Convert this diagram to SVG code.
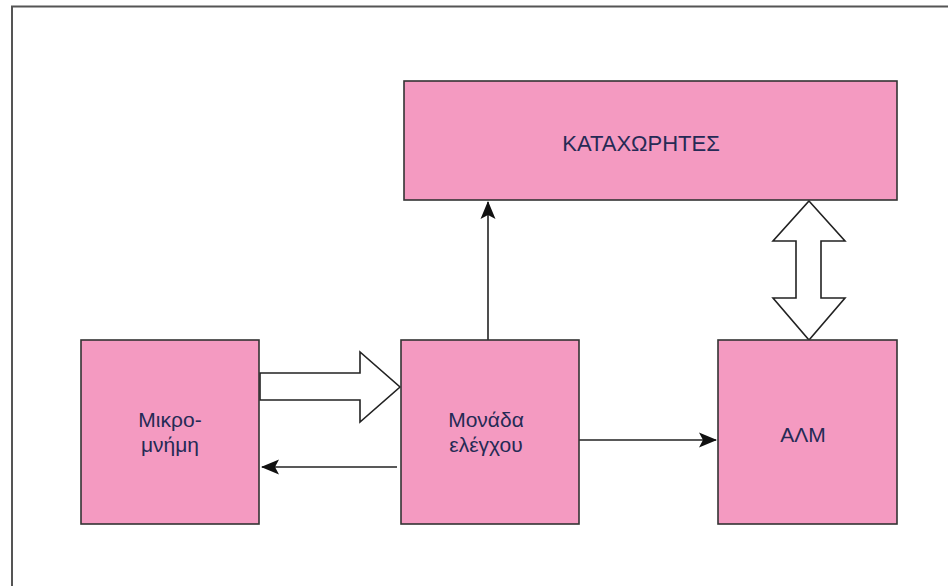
<svg xmlns="http://www.w3.org/2000/svg" width="948" height="586" viewBox="0 0 948 586">
<defs>
<style>
.box{fill:#F49AC1;stroke:#333;stroke-width:1.6}
.lbl{font-family:"Liberation Sans",Arial,sans-serif;font-size:21px;fill:#252a55;text-anchor:middle}
.line{stroke:#222;stroke-width:1.6;fill:none}
.hollow{fill:#fff;stroke:#222;stroke-width:1.6;stroke-linejoin:miter}
</style>
<marker id="ah" markerWidth="18" markerHeight="18" refX="17" refY="9" orient="auto" markerUnits="userSpaceOnUse">
<path d="M0,1.5 L18,9 L0,16.5 L4,9 Z" fill="#111"/>
</marker>
</defs>
<rect width="948" height="586" fill="#fff"/>
<path d="M12,586 V6.5 H948" fill="none" stroke="#555" stroke-width="2"/>
<g id="connectors">
<path class="line" d="M488,340 V202" marker-end="url(#ah)"/>
<path class="line" d="M579,440 H716" marker-end="url(#ah)"/>
<path class="line" d="M397,467 H262" marker-end="url(#ah)"/>
<path class="hollow" d="M260,373 H360 V352 L400,387 L360,422 V400 H260 Z"/>
<path class="hollow" d="M809,201 L845,241 H821 V298 H845 L809,340 L773,298 H796 V241 H773 Z"/>
</g>
<g id="registers">
<rect class="box" x="404" y="81" width="493" height="119"/>
<text class="lbl" x="641" y="151" style="font-size:22px">ΚΑΤΑΧΩΡΗΤΕΣ</text>
</g>
<g id="micromemory">
<rect class="box" x="81" y="340" width="178" height="184"/>
<text class="lbl" x="170" y="427">Μικρο-</text>
<text class="lbl" x="170" y="452">μνήμη</text>
</g>
<g id="control-unit">
<rect class="box" x="401" y="340" width="178" height="184"/>
<text class="lbl" x="486" y="427">Μονάδα</text>
<text class="lbl" x="486" y="452">ελέγχου</text>
</g>
<g id="alu">
<rect class="box" x="718" y="340" width="179" height="184"/>
<text class="lbl" x="803" y="442">ΑΛΜ</text>
</g>
</svg>
